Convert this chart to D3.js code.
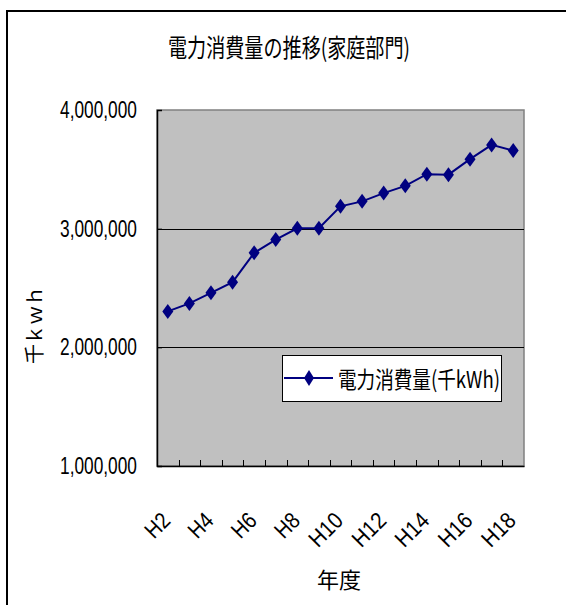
<!DOCTYPE html>
<html><head><meta charset="utf-8">
<script src="https://cdn.jsdelivr.net/npm/d3@7"></script>
<style>
html,body{margin:0;padding:0;background:#fff;}
svg{display:block;}
text{font-family:"Liberation Sans","Noto Sans CJK JP",sans-serif;fill:#000;}
.cjk{font-family:"Noto Sans CJK JP","Liberation Sans",sans-serif;}
</style>
</head><body>
<svg id="c" width="566" height="605"></svg>
<script>
const categories = ["H2","H3","H4","H5","H6","H7","H8","H9","H10","H11","H12","H13","H14","H15","H16","H17","H18"];
const values = [2303000, 2370000, 2459000, 2549000, 2796000, 2908000, 3003000, 3003000, 3188000, 3230000, 3300000, 3361000, 3459000, 3455000, 3586000, 3706000, 3658000];
const yTicks = [1000000, 2000000, 3000000, 4000000];
const xLabels = ["H2","H4","H6","H8","H10","H12","H14","H16","H18"];
const title = "電力消費量の推移(家庭部門)";
const seriesName = "電力消費量(千kWh)";
const yTitle = "千ｋｗｈ";
const xTitle = "年度";

const svg = d3.select("#c");
const L = 157, R = 524, T = 110, B = 466;

// outer frame (top and left)
svg.append("line").attr("x1",7).attr("x2",566).attr("y1",11).attr("y2",11).attr("stroke","#000").attr("stroke-width",2);
svg.append("line").attr("x1",7).attr("x2",7).attr("y1",10).attr("y2",605).attr("stroke","#000").attr("stroke-width",2);

const x = d3.scaleBand().domain(categories).range([L,R]).padding(0);
const y = d3.scaleLinear().domain([1000000,4000000]).range([B,T]);

// plot background
svg.append("rect").attr("x",L).attr("y",T).attr("width",R-L).attr("height",B-T).attr("fill","#c0c0c0").attr("stroke","#808080").attr("stroke-width",1.5);

// gridlines
svg.append("g").selectAll("line").data(yTicks.filter(v=>v>1000000 && v<4000000)).join("line")
  .attr("x1",L).attr("x2",R).attr("y1",d=>Math.round(y(d))+0.5).attr("y2",d=>Math.round(y(d))+0.5)
  .attr("stroke","#000").attr("stroke-width",1);

// y axis
const yAxis = d3.axisLeft(y).tickValues(yTicks).tickSize(-5).tickFormat("");
const gy = svg.append("g").attr("transform",`translate(${L},0)`).call(yAxis);
gy.select(".domain").attr("stroke","#000").attr("stroke-width",1.5);
gy.selectAll(".tick line").attr("stroke","#000");

svg.append("g").selectAll("text").data(yTicks).join("text")
  .attr("x",137).attr("y",d=>y(d)+8).attr("text-anchor","end")
  .attr("font-size",24).attr("textLength",77).attr("lengthAdjust","spacingAndGlyphs")
  .text(d=>d3.format(",")(d));

// x axis
const xAxis = d3.axisBottom(x).tickValues([]).tickSizeOuter(0);
const gx = svg.append("g").attr("transform",`translate(0,${B})`).call(xAxis);
gx.select(".domain").attr("stroke","#000").attr("stroke-width",1.5);
const bounds = categories.slice(1).map(c=>x(c));
svg.append("g").selectAll("line").data(bounds).join("line")
  .attr("x1",d=>Math.round(d)+0.5).attr("x2",d=>Math.round(d)+0.5).attr("y1",B).attr("y2",B-6)
  .attr("stroke","#000").attr("stroke-width",1);

svg.append("g").selectAll("text").data(xLabels).join("text")
  .attr("transform",d=>`translate(${x(d)+x.bandwidth()/2+4},${522}) rotate(-45)`)
  .attr("text-anchor","end").attr("font-size",23)
  .attr("textLength",d=>d.length*12.5).attr("lengthAdjust","spacingAndGlyphs")
  .text(d=>d);

// line
const cx = d=>x(d)+x.bandwidth()/2;
const line = d3.line().x((d,i)=>cx(categories[i])).y(d=>y(d));
svg.append("path").datum(values).attr("d",line).attr("fill","none").attr("stroke","#000080").attr("stroke-width",2);

const dw = 5.5, dh = 7.5;
const diamond = `M0,${-dh}L${dw},0L0,${dh}L${-dw},0Z`;
svg.append("g").selectAll("path").data(values).join("path")
  .attr("transform",(d,i)=>`translate(${cx(categories[i])},${y(d)})`)
  .attr("d",diamond).attr("fill","#000080");

// title
svg.append("text").attr("class","cjk").attr("x",168).attr("y",57)
  .attr("font-size",25).attr("textLength",242).attr("lengthAdjust","spacingAndGlyphs").text(title);

// y title
svg.append("text").attr("class","cjk").attr("transform","translate(42,325) rotate(-90)")
  .attr("text-anchor","middle").attr("font-size",20)
  .attr("textLength",78).attr("lengthAdjust","spacing").text(yTitle);

// x title
svg.append("text").attr("class","cjk").attr("x",339).attr("y",588).attr("text-anchor","middle")
  .attr("font-size",22).text(xTitle);

// legend
const lg = svg.append("g");
lg.append("rect").attr("x",282.5).attr("y",355.5).attr("width",219).attr("height",46).attr("fill","#fff").attr("stroke","#000").attr("stroke-width",1);
lg.append("line").attr("x1",284).attr("x2",333).attr("y1",378).attr("y2",378).attr("stroke","#000080").attr("stroke-width",2);
lg.append("path").attr("transform","translate(309,378)").attr("d",`M0,${-8}L5,0L0,8L-5,0Z`).attr("fill","#000080");
lg.append("text").attr("class","cjk").attr("x",338).attr("y",388).attr("font-size",23)
  .attr("textLength",162).attr("lengthAdjust","spacingAndGlyphs").text(seriesName);
</script>
</body></html>
